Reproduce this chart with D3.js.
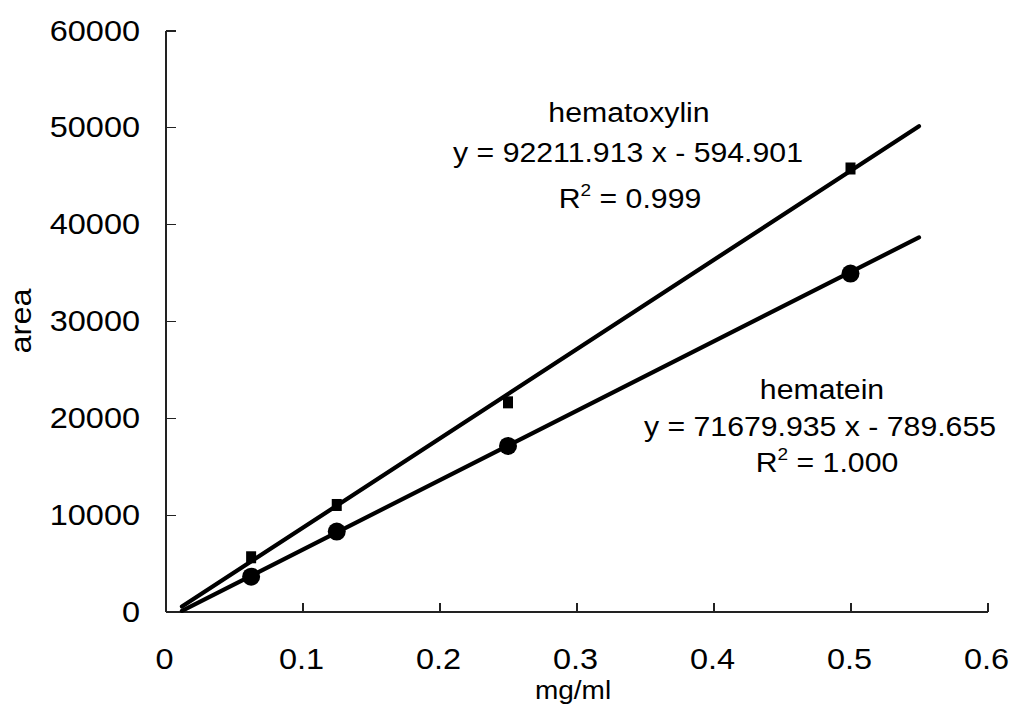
<!DOCTYPE html>
<html>
<head>
<meta charset="utf-8">
<script src="https://cdn.jsdelivr.net/npm/d3@7"></script>
<style>
  body { margin: 0; background: #fff; }
  text { font-family: "Liberation Sans", Arial, Helvetica, sans-serif; fill: #000; }
  .axis path, .axis line { stroke: #222; stroke-width: 1.2; shape-rendering: crispEdges; }
</style>
</head>
<body>
<svg width="1013" height="704"></svg>
<script>
// concentrations (mg/ml) and peak areas
var conc = [0.0625, 0.125, 0.25, 0.5];
var hematoxylinArea = [5600, 11000, 21600, 45750];
var hemateinArea = [3600, 8250, 17100, 34900];

// regression lines as printed on the chart
var fitNames = ['hematoxylin', 'hematein'];
var fitSlope = [92211.913, 71679.935];
var fitIntercept = [-594.901, -789.655];
var fitR2 = ['0.999', '1.000'];
var fitRange = [0.012, 0.55];

var xTicks = [0, 0.1, 0.2, 0.3, 0.4, 0.5, 0.6];
var yTicks = [0, 10000, 20000, 30000, 40000, 50000, 60000];

var svg = d3.select('svg');
var stretch = 1.12; // the scanned type is a bit wide

var x = d3.scaleLinear().domain([0, 0.6]).range([165.5, 987.5]);
var y = d3.scaleLinear().domain([0, 60000]).range([611.5, 30.5]);

function label(px, py, txt, anchor, size) {
    return svg.append('text')
        .attr('transform', 'translate(' + px + ',' + py + ') scale(' + stretch + ',1)')
        .attr('text-anchor', anchor || 'middle')
        .style('font-size', (size || 29) + 'px')
        .text(txt);
}

// axes, ticks pointing inwards
svg.append('g')
    .attr('class', 'axis')
    .attr('transform', 'translate(' + x(0) + ',0)')
    .call(d3.axisLeft(y).tickValues(yTicks).tickSizeInner(-10).tickSizeOuter(0).tickFormat(''));

svg.append('g')
    .attr('class', 'axis')
    .attr('transform', 'translate(0,' + y(0) + ')')
    .call(d3.axisBottom(x).tickValues(xTicks).tickSizeInner(-9).tickSizeOuter(0).tickFormat(''));

yTicks.forEach(function(t) { label(140, y(t) + 10, String(t), 'end'); });
xTicks.forEach(function(t) { label(x(t) - 1, 669, String(t), 'middle'); });

label(573, 699, 'mg/ml', 'middle', 25);
svg.append('text')
    .attr('transform', 'translate(31,' + (y(30000)) + ') rotate(-90) scale(' + stretch + ',1)')
    .attr('text-anchor', 'middle')
    .style('font-size', '29px')
    .text('area');

// fitted lines
var line = d3.line()
    .x(function(d) { return x(d[0]); })
    .y(function(d) { return y(d[1]); });

fitSlope.forEach(function(m, i) {
    var pts = fitRange.map(function(c) { return [c, m * c + fitIntercept[i]]; });
    svg.append('path')
        .datum(pts)
        .attr('d', line)
        .attr('fill', 'none')
        .attr('stroke', '#000')
        .attr('stroke-width', 4.2)
        .attr('stroke-linecap', 'round');
});

// markers
svg.selectAll('.sq')
    .data(conc)
    .enter()
    .append('rect')
    .attr('class', 'sq')
    .attr('x', function(d) { return x(d) - 5; })
    .attr('y', function(d, i) { return y(hematoxylinArea[i]) - 6; })
    .attr('width', 10)
    .attr('height', 12)
    .attr('fill', '#000');

svg.selectAll('.dot')
    .data(conc)
    .enter()
    .append('circle')
    .attr('class', 'dot')
    .attr('cx', function(d) { return x(d); })
    .attr('cy', function(d, i) { return y(hemateinArea[i]); })
    .attr('r', 9)
    .attr('fill', '#000');

// equations
function r2(px, py, val) {
    var t = svg.append('text')
        .attr('transform', 'translate(' + px + ',' + py + ') scale(' + stretch + ',1)')
        .attr('text-anchor', 'middle')
        .style('font-size', '27px');
    t.append('tspan').text('R');
    t.append('tspan').attr('dy', -12).style('font-size', '17px').text('2');
    t.append('tspan').attr('dy', 12).text(' = ' + val);
}

function eq(i) {
    return 'y = ' + fitSlope[i].toFixed(3) + ' x - ' + (-fitIntercept[i]).toFixed(3);
}

label(629, 122, fitNames[0], 'middle', 27);
label(628, 162, eq(0), 'middle', 27);
r2(630, 208, fitR2[0]);

label(822, 399, fitNames[1], 'middle', 27);
label(820, 436, eq(1), 'middle', 27);
r2(827, 472, fitR2[1]);
</script>
</body>
</html>
